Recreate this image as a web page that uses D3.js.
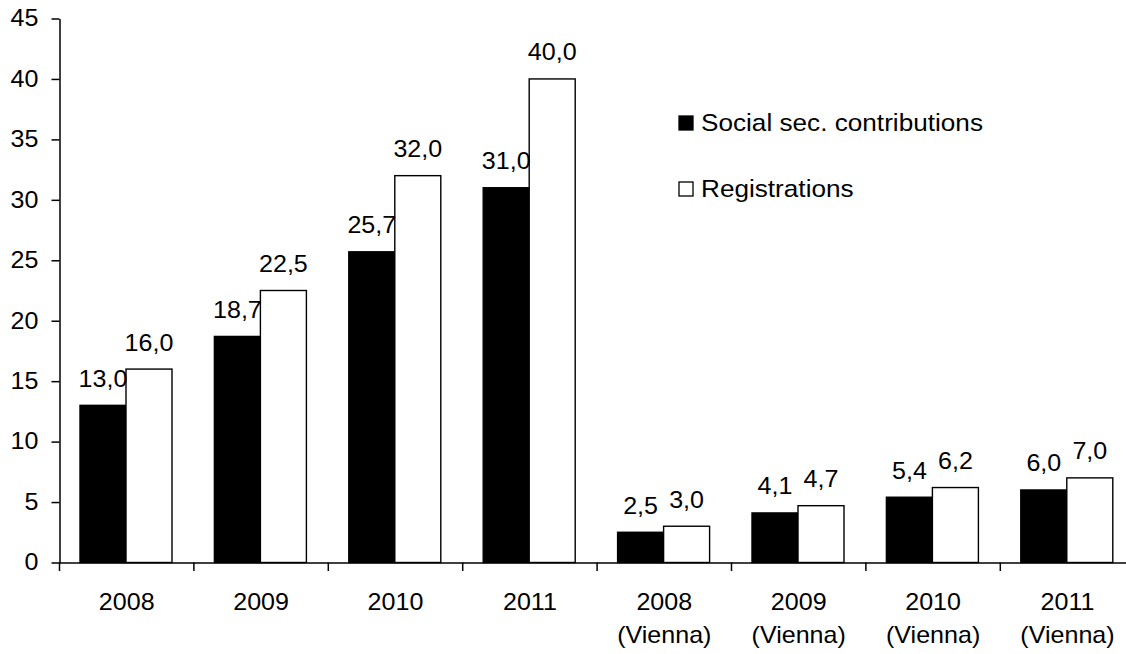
<!DOCTYPE html>
<html>
<head>
<meta charset="utf-8">
<script src="https://cdn.jsdelivr.net/npm/d3@7"></script>
<style>
  html, body { margin: 0; padding: 0; background: #fff; }
  svg { display: block; font-family: "Liberation Sans", Arial, sans-serif; }
</style>
</head>
<body>
<svg id="chart" width="1126" height="654"></svg>
<script>
// Categories (second line shown under the year where present)
const categories = ["2008", "2009", "2010", "2011",
  "2008\n(Vienna)", "2009\n(Vienna)", "2010\n(Vienna)", "2011\n(Vienna)"];
const socialSec = [13.0, 18.7, 25.7, 31.0, 2.5, 4.1, 5.4, 6.0];
const registrations = [16.0, 22.5, 32.0, 40.0, 3.0, 4.7, 6.2, 7.0];
const seriesNames = ["Social sec. contributions", "Registrations"];
const yTicks = [0, 5, 10, 15, 20, 25, 30, 35, 40, 45];

const rows = categories.map((c, i) => ({ cat: c, values: [socialSec[i], registrations[i]] }));

const svg = d3.select("#chart");
const SX = 1.09;            // horizontal text stretch
const FS = 23;              // main font size

const plotLeft = 59.5, bandW = 134.4, plotTop = 18.5, plotBottom = 562.5;

const x0 = d3.scaleBand().domain(categories)
  .range([plotLeft, plotLeft + bandW * categories.length]).padding(0);
const x1 = d3.scaleBand().domain([0, 1]).range([20.5, 112.5]).padding(0);
const y = d3.scaleLinear().domain([0, 45]).range([plotBottom, plotTop]);

const fills = ["#000", "#fff"];
const fmt = d3.formatLocale({ decimal: ",", thousands: ".", grouping: [3], currency: ["", ""] }).format(".1f");

// Bars
const groups = svg.append("g").selectAll("g").data(rows).join("g")
  .attr("transform", d => `translate(${x0(d.cat)},0)`);

groups.selectAll("rect").data(d => d.values.map((v, k) => ({ v, k }))).join("rect")
  .attr("x", d => x1(d.k))
  .attr("width", x1.bandwidth())
  .attr("y", d => y(d.v))
  .attr("height", d => y(0) - y(d.v))
  .attr("fill", d => fills[d.k])
  .attr("stroke", "#000")
  .attr("stroke-width", 1.4);

// Value labels
groups.selectAll("text").data(d => d.values.map((v, k) => ({ v, k }))).join("text")
  .attr("transform", d => `translate(${x1(d.k) + x1.bandwidth() / 2},${y(d.v) - 18.5}) scale(${SX},1)`)
  .attr("text-anchor", "middle")
  .attr("font-size", FS)
  .attr("fill", "#000")
  .text(d => fmt(d.v));

// Y axis
const yAxis = svg.append("g")
  .attr("transform", `translate(${plotLeft},0)`)
  .call(d3.axisLeft(y).tickValues(yTicks).tickSize(8).tickPadding(13).tickSizeOuter(0));
yAxis.select(".domain").attr("stroke", "#000").attr("stroke-width", 1.5);
yAxis.selectAll(".tick line").attr("stroke", "#000").attr("stroke-width", 1.5);
yAxis.selectAll(".tick text")
  .attr("font-size", FS).attr("font-family", null).attr("fill", "#000")
  .attr("transform", function () { return `translate(${d3.select(this).attr("x")},0) scale(${SX},1)`; })
  .attr("x", 0);

// X axis: line, boundary ticks and labels
const xAxis = svg.append("g")
  .attr("transform", `translate(0,${plotBottom})`)
  .call(d3.axisBottom(x0).tickSize(0).tickPadding(0).tickSizeOuter(0));
xAxis.select(".domain").attr("stroke", "#000").attr("stroke-width", 1.5);
xAxis.selectAll(".tick line").remove();
xAxis.selectAll(".tick text").each(function (d) {
  const t = d3.select(this);
  const lines = d.split("\n");
  t.text(null)
    .attr("font-size", FS).attr("font-family", null).attr("fill", "#000")
    .attr("y", null).attr("dy", null)
    .attr("transform", `translate(0,47.5) scale(${SX},1)`);
  lines.forEach((ln, i) => {
    t.append("tspan").attr("x", 0).attr("y", i * 33.5).text(ln);
  });
});
// category boundary ticks
xAxis.selectAll("line.bound").data(categories.concat(["end"])).join("line")
  .attr("class", "bound")
  .attr("x1", (d, i) => plotLeft + i * bandW)
  .attr("x2", (d, i) => plotLeft + i * bandW)
  .attr("y1", 0).attr("y2", 8.5)
  .attr("stroke", "#000").attr("stroke-width", 1.5);

// Legend
const legend = svg.append("g").attr("transform", "translate(679,0)");
const legendY = [131, 197];
seriesNames.forEach((name, i) => {
  legend.append("rect")
    .attr("x", 0).attr("y", legendY[i] - 15)
    .attr("width", 14).attr("height", 14)
    .attr("fill", fills[i]).attr("stroke", "#000").attr("stroke-width", 1.3);
  legend.append("text")
    .attr("transform", `translate(22,${legendY[i]}) scale(${SX},1)`)
    .attr("font-size", 24)
    .attr("fill", "#000")
    .text(name);
});
</script>
</body>
</html>
